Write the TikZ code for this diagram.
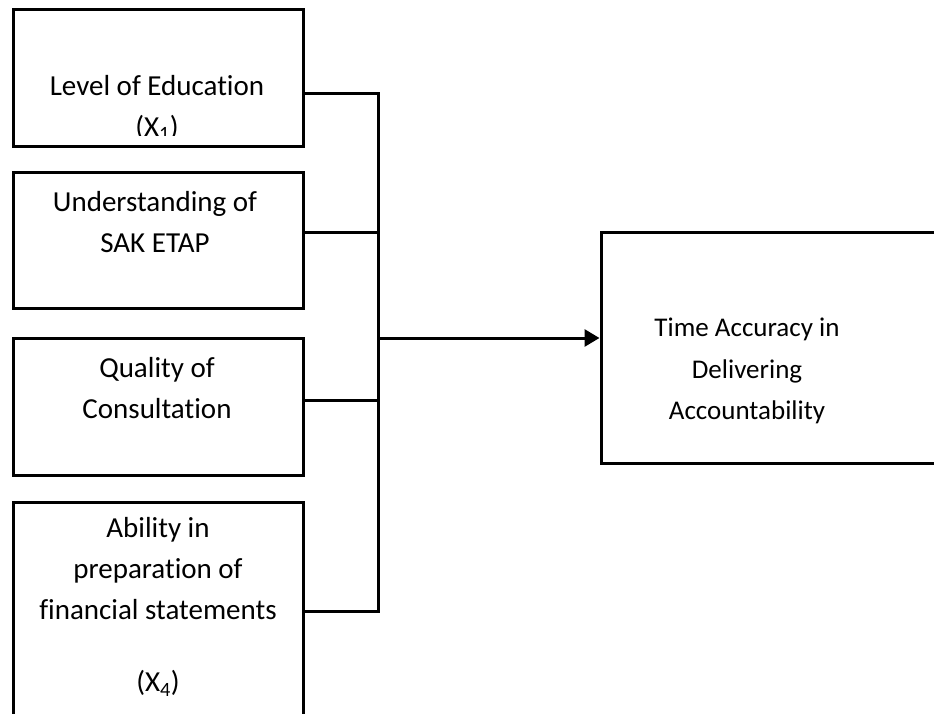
\documentclass[tikz,border=0pt]{standalone}
\usepackage{fontspec}
\setmainfont[Ligatures={NoCommon}]{Carlito}
\usetikzlibrary{calc,arrows.meta}
\tikzset{
  boxnode/.style={draw=black, line width=3pt, rectangle, inner sep=0pt, fill=none},
  lbl/.style={align=center, font=\fontsize{29}{41}\selectfont, inner sep=0pt},
  lblr/.style={align=center, font=\fontsize{27}{41.5}\selectfont, inner sep=0pt},
  conn/.style={draw=black, line width=3pt},
  arr/.style={conn, -{Triangle[length=15pt,width=17pt]}}
}
\begin{document}
\begin{tikzpicture}[x=1pt,y=-1pt]
\useasboundingbox (0,0) rectangle (934,713);
\clip (0,0) rectangle (934,713);
% boxes
\node[boxnode, minimum width=290pt, minimum height=137pt] (box1) at (158,77.5) {};
\node[boxnode, minimum width=290pt, minimum height=136pt] (box2) at (158,240) {};
\node[boxnode, minimum width=290pt, minimum height=137pt] (box3) at (158,406.5) {};
\node[boxnode, minimum width=290pt, minimum height=278pt] (box4) at (158,641) {};
\node[boxnode, minimum width=359pt, minimum height=231pt] (rbox) at (780.5,347.5) {};
% texts
\begin{scope}
\clip (13,9) rectangle (303,135);
\node[lbl] (t1) at (157,108) {Level of Education\\(X\textsubscript{1})};
\end{scope}
\node[lbl] (t2) at (155,222) {Understanding of\\SAK ETAP};
\node[lbl] (t3) at (157,388) {Quality of\\Consultation};
\node[lbl] (t4) at (158,607) {Ability in\\preparation of\\financial statements\\[31pt](X\textsubscript{4})};
\node[lbl, lblr] (t5) at (747,371) {Time Accuracy in\\Delivering\\Accountability};
% connectors
\coordinate (bt) at (378,93);
\coordinate (bb) at (378,611);
\coordinate (bm) at (378,338);
\draw[conn] ($(box1.east)+(0,15.5)$) -- (bt) -- (bb) -- ($(box4.east)+(0,-30)$);
\draw[conn] ($(box2.east)+(0,-8)$) -- (378,232);
\draw[conn] ($(box3.east)+(0,-6.5)$) -- (378,400);
\draw[arr] (bm) -- ($(rbox.west)+(0,-9.5)$);
\end{tikzpicture}
\end{document}
